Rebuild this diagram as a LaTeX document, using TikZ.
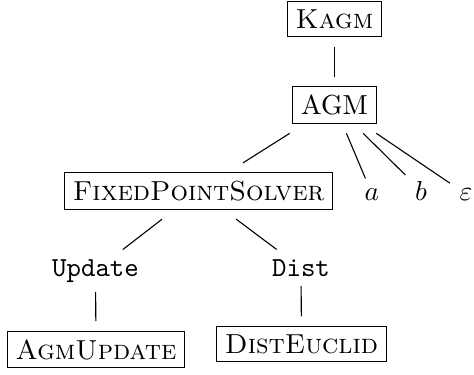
\documentclass[tikz,border=0pt]{standalone}
\usepackage{tikz}
\tikzset{
  box/.style={draw,line width=0.4pt,inner sep=3pt,outer sep=3.6pt},
  leaf/.style={inner sep=3.33pt,anchor=base},
}
\begin{document}
\begin{tikzpicture}[x=0.3636pt,y=-0.3636pt]
      \useasboundingbox (0,0) rectangle (474,374);
      \coordinate (top) at (334.5,19);
      \coordinate (mid) at (334.5,105);
      \node[box] (K) at (top) {\textsc{Kagm}};
      \node[box] (A) at (mid) {AGM};
      \node[box] (F) at (198.5,191) {\textsc{FixedPointSolver}};
      \node[leaf] (a) at (372,200) {$a$};
      \node[leaf] (b) at (421,200) {$b$};
      \node[leaf] (e) at (466,200) {$\varepsilon$};
      \node[leaf] (U) at (95.5,276) {\texttt{Update}};
      \node[leaf] (D) at (301,276) {\texttt{Dist}};
      \node[box] (AU) at (96,349.5) {\textsc{AgmUpdate}};
      \node[box] (DE) at (301.5,344) {\textsc{DistEuclid}};
      \draw (K) -- (A);
      \foreach \c in {F,a,b,e}
        \draw (A) -- (\c);
      \draw (F) -- (U);
      \draw (F) -- (D);
      \draw (U) -- (AU);
      \draw (D) -- (DE);
    \end{tikzpicture}
\end{document}
